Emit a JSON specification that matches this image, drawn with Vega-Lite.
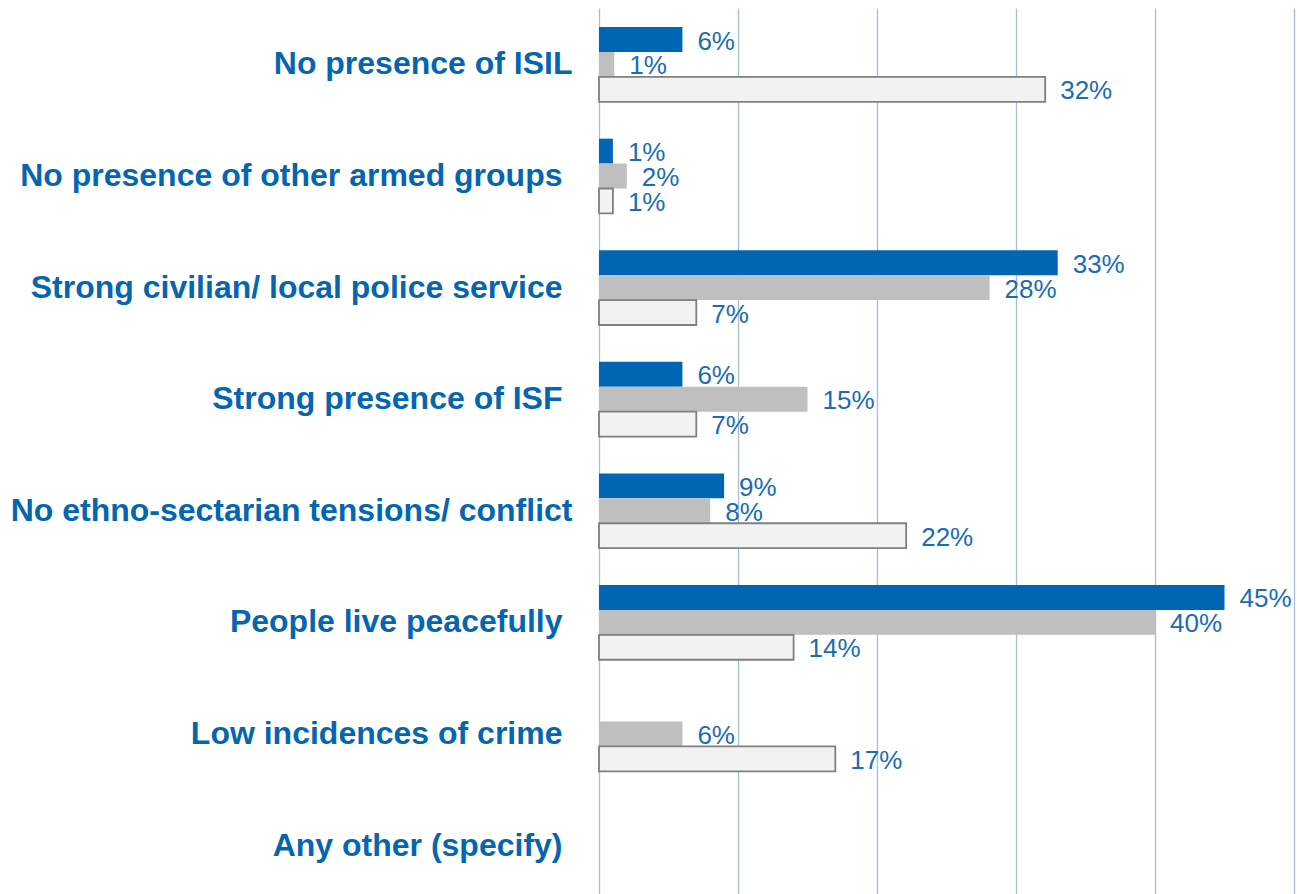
{
  "$schema": "https://vega.github.io/schema/vega-lite/v6.json",
  "width": 695,
  "height": 886,
  "autosize": {"type": "none"},
  "padding": {"left": 599, "top": 8, "right": 3, "bottom": 0},
  "background": "white",
  "config": {"view": {"stroke": null}, "font": "Liberation Sans"},
  "data": {
    "values": [
      {"factor": "No presence of ISIL", "series": "A", "value": 0.060},
      {"factor": "No presence of ISIL", "series": "B", "value": 0.011},
      {"factor": "No presence of ISIL", "series": "C", "value": 0.321},
      {"factor": "No presence of other armed groups", "series": "A", "value": 0.010},
      {"factor": "No presence of other armed groups", "series": "B", "value": 0.020},
      {"factor": "No presence of other armed groups", "series": "C", "value": 0.010},
      {"factor": "Strong civilian/ local police service", "series": "A", "value": 0.330},
      {"factor": "Strong civilian/ local police service", "series": "B", "value": 0.281},
      {"factor": "Strong civilian/ local police service", "series": "C", "value": 0.070},
      {"factor": "Strong presence of ISF", "series": "A", "value": 0.060},
      {"factor": "Strong presence of ISF", "series": "B", "value": 0.150},
      {"factor": "Strong presence of ISF", "series": "C", "value": 0.070},
      {"factor": "No ethno-sectarian tensions/ conflict", "series": "A", "value": 0.090},
      {"factor": "No ethno-sectarian tensions/ conflict", "series": "B", "value": 0.080},
      {"factor": "No ethno-sectarian tensions/ conflict", "series": "C", "value": 0.221},
      {"factor": "People live peacefully", "series": "A", "value": 0.450},
      {"factor": "People live peacefully", "series": "B", "value": 0.400},
      {"factor": "People live peacefully", "series": "C", "value": 0.140},
      {"factor": "Low incidences of crime", "series": "B", "value": 0.060},
      {"factor": "Low incidences of crime", "series": "C", "value": 0.170}
    ]
  },
  "encoding": {
    "y": {
      "field": "factor",
      "type": "nominal",
      "sort": null,
      "scale": {
        "domain": [
          "No presence of ISIL",
          "No presence of other armed groups",
          "Strong civilian/ local police service",
          "Strong presence of ISF",
          "No ethno-sectarian tensions/ conflict",
          "People live peacefully",
          "Low incidences of crime",
          "Any other (specify)"
        ],
        "paddingInner": 0.33,
        "paddingOuter": 0.135,
        "align": 0.633
      },
      "axis": {
        "title": null,
        "domain": false,
        "ticks": false,
        "labelPadding": {
          "condition": {"test": "datum.value === 'No presence of ISIL' || datum.value === 'No ethno-sectarian tensions/ conflict'", "value": 27},
          "value": 37
        },
        "labelFontSize": 32,
        "labelFontWeight": "bold",
        "labelColor": "#0566b0",
        "labelFont": "Liberation Sans",
        "labelLimit": 700
      }
    },
    "yOffset": {
      "field": "series",
      "type": "nominal",
      "scale": {"domain": ["A", "B", "C"], "paddingInner": 0, "paddingOuter": 0}
    },
    "x": {
      "field": "value",
      "type": "quantitative",
      "scale": {"domain": [0, 0.5], "nice": false},
      "axis": {
        "title": null,
        "values": [0, 0.1, 0.2, 0.3, 0.4, 0.5],
        "labels": false,
        "ticks": false,
        "domain": false,
        "grid": true,
        "gridColor": "#a9bcd9",
        "gridWidth": 1.3
      }
    }
  },
  "layer": [
    {
      "mark": {"type": "bar", "strokeWidth": 1.8},
      "encoding": {
        "fill": {
          "field": "series",
          "type": "nominal",
          "scale": {"domain": ["A", "B", "C"], "range": ["#0066b3", "#bfbfbf", "#f2f2f2"]},
          "legend": null
        },
        "stroke": {
          "field": "series",
          "type": "nominal",
          "scale": {"domain": ["A", "B", "C"], "range": ["transparent", "transparent", "#808080"]},
          "legend": null
        }
      }
    },
    {
      "mark": {"type": "text", "align": "left", "baseline": "middle", "dx": 15, "dy": 2, "fontSize": 26, "color": "#1a6db5", "font": "Liberation Sans"},
      "encoding": {
        "text": {"field": "value", "type": "quantitative", "format": ".0%"}
      }
    }
  ]
}
